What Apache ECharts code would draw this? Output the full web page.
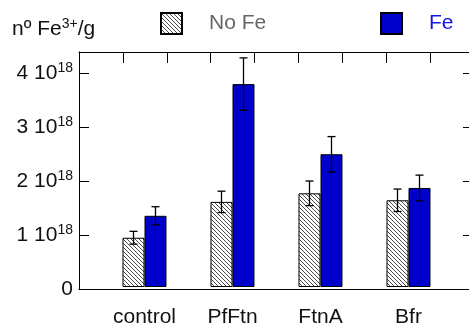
<!DOCTYPE html>
<html>
<head>
<meta charset="utf-8">
<script src="https://cdn.jsdelivr.net/npm/echarts@6/dist/echarts.min.js"></script>
<style>
  html, body { margin: 0; padding: 0; background: #fff; }
  #chart { width: 469px; height: 328px; }
</style>
</head>
<body>
<div id="chart"></div>
<script>
// Iron content per gram, in units of 10^18
const categories = ['control', 'PfFtn', 'FtnA', 'Bfr'];
const noFeValues = [0.92, 1.59, 1.75, 1.62];
const noFeErrors = [0.12, 0.20, 0.23, 0.21];
const feValues = [1.33, 3.79, 2.48, 1.85];
const feErrors = [0.17, 0.49, 0.33, 0.24];
const seriesNames = ['No Fe', 'Fe'];
const yTicks = [0, 1, 2, 3, 4];
const yExponent = '18';

const FONT = 'Liberation Sans, Arial, sans-serif';
const Y_MAX = 4.39;

// Diagonal hatch fill for the "No Fe" bars
function makeHatch() {
  const c = document.createElement('canvas');
  c.width = 4; c.height = 4;
  const g = c.getContext('2d');
  g.fillStyle = '#ffffff';
  g.fillRect(0, 0, 4, 4);
  g.strokeStyle = '#4a4a4a';
  g.lineWidth = 1;
  g.beginPath();
  g.moveTo(-1, -1); g.lineTo(5, 5);
  g.moveTo(-1, 3); g.lineTo(1, 5);
  g.moveTo(3, -1); g.lineTo(5, 1);
  g.stroke();
  return c;
}
const hatch = { image: makeHatch(), repeat: 'repeat' };

const errorData = [];
categories.forEach((c, i) => {
  errorData.push([i, noFeValues[i] - noFeErrors[i], noFeValues[i] + noFeErrors[i], 0]);
  errorData.push([i, feValues[i] - feErrors[i], feValues[i] + feErrors[i], 1]);
});

const chart = echarts.init(document.getElementById('chart'));
const supRich = {
  n: { fontSize: 21, fontFamily: FONT, color: '#111', fontWeight: 'normal' },
  sup: { fontSize: 14, fontFamily: FONT, color: '#111', fontWeight: 'normal', padding: [0, 0, 10, 0] }
};
const frameLine = { show: true, onZero: false, lineStyle: { color: '#000', width: 1 } };

chart.setOption({
  animation: false,
  textStyle: { fontFamily: FONT },
  title: {
    text: '{n|nº Fe}{sup|3+}{n|/g}',
    left: 12, top: 17, padding: 0,
    textStyle: { rich: supRich }
  },
  legend: [
    {
      data: [{ name: seriesNames[0], textStyle: { color: '#666' } }],
      left: 160, top: 12, padding: 0,
      itemWidth: 21, itemHeight: 21,
      icon: 'rect',
      textStyle: { fontSize: 21, fontFamily: FONT, padding: [0, 0, 0, 22] }
    },
    {
      data: [{ name: seriesNames[1], textStyle: { color: '#1414e0' } }],
      left: 380, top: 12, padding: 0,
      itemWidth: 21, itemHeight: 21,
      icon: 'rect',
      textStyle: { fontSize: 21, fontFamily: FONT, padding: [0, 0, 0, 22] }
    }
  ],
  grid: [
    { left: 79, right: -1, top: 52, bottom: 39 },
    { left: 100.5, width: 352, top: 52, bottom: 39 }
  ],
  xAxis: [
    {
      // frame bottom
      gridIndex: 0, type: 'value', min: 0, max: 391, position: 'bottom',
      axisLine: frameLine,
      axisTick: { show: false }, axisLabel: { show: false }, splitLine: { show: false }
    },
    {
      // frame top with ticks
      gridIndex: 0, type: 'value', min: 0, max: 391, interval: 44, position: 'top',
      axisLine: frameLine,
      axisTick: { show: true, inside: true, length: 11, lineStyle: { color: '#000', width: 1 } },
      axisLabel: { show: false }, splitLine: { show: false }
    },
    {
      gridIndex: 1, type: 'category', data: categories,
      axisLine: { show: false }, axisTick: { show: false },
      axisLabel: { fontSize: 21, color: '#111', margin: 20, fontFamily: FONT }
    }
  ],
  yAxis: [
    {
      gridIndex: 0, type: 'value', min: 0, max: Y_MAX, interval: 1, position: 'left',
      axisLine: frameLine,
      axisTick: { show: true, inside: true, length: 10, lineStyle: { color: '#000', width: 1 } },
      splitLine: { show: false },
      axisLabel: {
        margin: 6,
        formatter: v => yTicks.includes(v) ? (v === 0 ? '{n|0}' : '{n|' + v + ' 10}{sup|' + yExponent + '}') : '',
        rich: supRich
      }
    },
    {
      gridIndex: 0, type: 'value', min: 0, max: Y_MAX, interval: 1, position: 'right',
      axisLine: frameLine,
      axisTick: { show: true, inside: true, length: 6, lineStyle: { color: '#000', width: 1 } },
      axisLabel: { show: false }, splitLine: { show: false }
    },
    {
      gridIndex: 1, type: 'value', min: 0, max: Y_MAX, show: false, splitLine: { show: false }
    }
  ],
  series: [
    {
      name: seriesNames[0], type: 'bar', xAxisIndex: 2, yAxisIndex: 2,
      data: noFeValues, barWidth: 22, barGap: '0%',
      itemStyle: { color: hatch, borderColor: '#000', borderWidth: 1 }
    },
    {
      name: seriesNames[1], type: 'bar', xAxisIndex: 2, yAxisIndex: 2,
      data: feValues, barWidth: 22, barGap: '0%',
      itemStyle: { color: '#0000cc', borderColor: '#000', borderWidth: 1 }
    },
    {
      type: 'custom', xAxisIndex: 2, yAxisIndex: 2, z: 10,
      data: errorData,
      renderItem: (params, api) => {
        const idx = api.value(0);
        const off = api.value(3) === 0 ? -11 : 11;
        const lo = api.coord([idx, api.value(1)]);
        const hi = api.coord([idx, api.value(2)]);
        const x = lo[0] + off;
        const cap = 4;
        const style = { stroke: '#000', lineWidth: 1.3 };
        return {
          type: 'group',
          children: [
            { type: 'line', shape: { x1: x, y1: lo[1], x2: x, y2: hi[1] }, style },
            { type: 'line', shape: { x1: x - cap, y1: lo[1], x2: x + cap, y2: lo[1] }, style },
            { type: 'line', shape: { x1: x - cap, y1: hi[1], x2: x + cap, y2: hi[1] }, style }
          ]
        };
      }
    }
  ]
});
</script>
</body>
</html>
